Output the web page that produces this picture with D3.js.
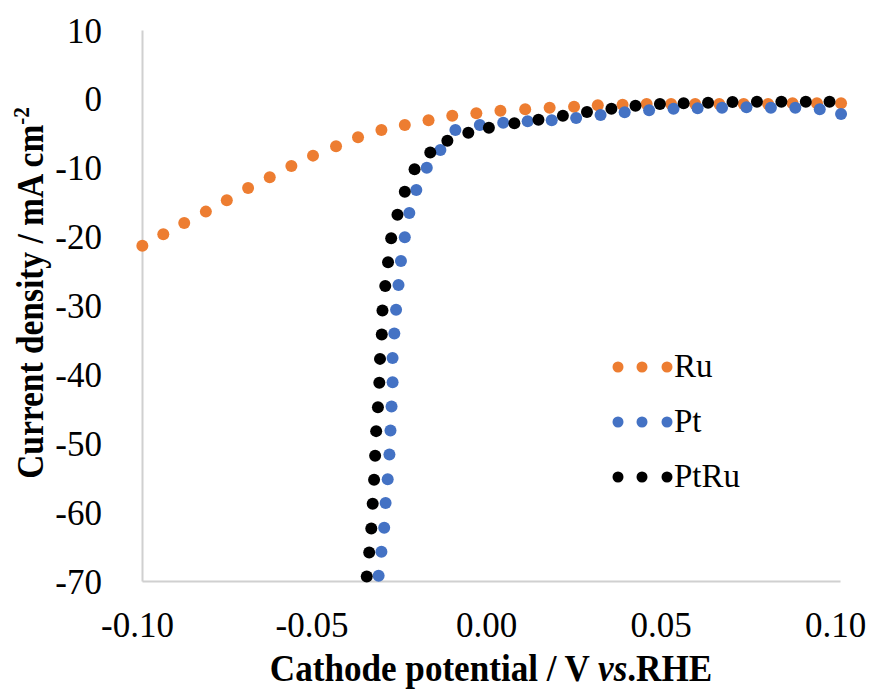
<!DOCTYPE html>
<html>
<head>
<meta charset="utf-8">
<script src="https://cdn.jsdelivr.net/npm/d3@7"></script>
<style>
  body { margin: 0; background: #fff; }
</style>
</head>
<body>
<script>
// series values (V vs RHE, mA cm-2)
var ruX = [-0.0999, -0.0939, -0.0879, -0.0817, -0.0757, -0.0696, -0.0634, -0.0572, -0.0510, -0.0444,
           -0.0381, -0.0314, -0.0247, -0.0179, -0.0111, -0.0042, 0.0027, 0.0098, 0.0168, 0.0238,
           0.0306, 0.0377, 0.0446, 0.0516, 0.0585, 0.0654, 0.0724, 0.0794, 0.0864, 0.0934, 0.1003];
var ruY = [-21.31, -19.65, -18.01, -16.37, -14.72, -12.93, -11.38, -9.74, -8.24, -6.88,
           -5.57, -4.51, -3.79, -3.11, -2.44, -2.09, -1.71, -1.51, -1.28, -1.13,
           -0.93, -0.84, -0.74, -0.74, -0.74, -0.74, -0.74, -0.74, -0.64, -0.64, -0.64];

var ptX = [-0.0322, -0.0314, -0.0306, -0.0302, -0.0296, -0.0291, -0.0288, -0.0285, -0.0282, -0.0282,
           -0.0277, -0.0272, -0.0265, -0.0258, -0.0247, -0.0234, -0.0214, -0.0184, -0.0145, -0.0102,
           -0.0032, 0.0035, 0.0105, 0.0174, 0.0244, 0.0314, 0.0383, 0.0453, 0.0523, 0.0592,
           0.0662, 0.0732, 0.0802, 0.0872, 0.0942, 0.1003];
var ptY = [-69.25, -65.76, -62.28, -58.69, -55.21, -51.64, -48.16, -44.67, -41.13, -37.61,
           -34.08, -30.60, -27.01, -23.53, -20.09, -16.56, -13.22, -9.99, -7.42, -4.51,
           -3.79, -3.45, -3.25, -3.11, -2.77, -2.34, -1.94, -1.65, -1.42, -1.36,
           -1.28, -1.22, -1.28, -1.28, -1.51, -2.19];

var ptruX = [-0.0356, -0.0349, -0.0343, -0.0339, -0.0335, -0.0332, -0.0329, -0.0324, -0.0320, -0.0318,
             -0.0313, -0.0311, -0.0303, -0.0295, -0.0286, -0.0268, -0.0247, -0.0219, -0.0174, -0.0125,
             -0.0065, -0.0006, 0.0067, 0.0136, 0.0206, 0.0275, 0.0345, 0.0414, 0.0484, 0.0552,
             0.0622, 0.0692, 0.0762, 0.0832, 0.0902, 0.0970];
var ptruY = [-69.35, -65.86, -62.38, -58.80, -55.31, -51.83, -48.24, -44.76, -41.23, -37.75,
             -34.22, -30.74, -27.16, -23.72, -20.23, -16.81, -13.47, -10.22, -7.78, -6.07,
             -4.91, -4.18, -3.54, -3.02, -2.44, -1.90, -1.42, -0.99, -0.74, -0.64,
             -0.55, -0.45, -0.41, -0.41, -0.41, -0.41];

var seriesNames = ["Ru", "Pt", "PtRu"];
var seriesColors = ["#ED7D31", "#4472C4", "#000000"];
var xTicks = [-0.10, -0.05, 0.00, 0.05, 0.10];
var yTicks = [10, 0, -10, -20, -30, -40, -50, -60, -70];

var series = [
    { name: seriesNames[0], color: seriesColors[0], x: ruX, y: ruY },
    { name: seriesNames[1], color: seriesColors[1], x: ptX, y: ptY },
    { name: seriesNames[2], color: seriesColors[2], x: ptruX, y: ptruY }
];

var serif = "Liberation Serif";

var svg = d3.select("body").append("svg")
    .attr("width", 870)
    .attr("height", 689)
    .attr("font-family", serif);

var x = d3.scaleLinear().domain([-0.10, 0.10]).range([142, 840]);
var y = d3.scaleLinear().domain([-70, 10]).range([581, 30]);

// axes: light gray lines, no tick marks
var xAxis = svg.append("g")
    .attr("transform", "translate(0," + y(-70) + ")")
    .call(d3.axisBottom(x).tickValues(xTicks).tickSize(0));
xAxis.attr("font-family", serif).attr("font-size", 35);
xAxis.select(".domain").attr("stroke", "#d0d0d0").attr("stroke-width", 2);
xAxis.selectAll("text")
    .attr("font-family", serif)
    .attr("dy", null)
    .attr("y", 56)
    .attr("dx", -5)
    .text(function(d) { return d3.format(".2f")(d).replace("\u2212", "-"); });

var yAxis = svg.append("g")
    .attr("transform", "translate(" + x(-0.10) + ",0)")
    .call(d3.axisLeft(y).tickValues(yTicks).tickSize(0));
yAxis.attr("font-family", serif).attr("font-size", 35);
yAxis.select(".domain").attr("stroke", "#d0d0d0").attr("stroke-width", 2);
yAxis.selectAll("text")
    .attr("font-family", serif)
    .attr("x", -40)
    .attr("dy", 12)
    .text(function(d) { return String(d); });

// points
series.forEach(function(s) {
    svg.append("g").selectAll("circle")
        .data(s.x.map(function(v, i) { return [v, s.y[i]]; }))
        .enter().append("circle")
        .attr("cx", function(d) { return x(d[0]); })
        .attr("cy", function(d) { return y(d[1]); })
        .attr("r", 6)
        .attr("fill", s.color);
});

// legend
var legend = svg.append("g");
series.forEach(function(s, i) {
    var ly = 367 + i * 55;
    [618, 642, 667].forEach(function(lx) {
        legend.append("circle")
            .attr("cx", lx)
            .attr("cy", ly)
            .attr("r", 5.5)
            .attr("fill", s.color);
    });
    legend.append("text")
        .attr("x", 674)
        .attr("y", ly + 10)
        .attr("font-family", serif)
        .attr("font-size", 33)
        .text(s.name);
});

// axis titles
var xt = svg.append("text")
    .attr("transform", "translate(491,681) scale(0.9,1)")
    .attr("text-anchor", "middle")
    .attr("font-family", serif)
    .attr("font-size", 39)
    .attr("font-weight", "bold");
xt.append("tspan").text("Cathode potential / V ");
xt.append("tspan").attr("font-style", "italic").text("vs");
xt.append("tspan").text(".RHE");

var yt = svg.append("text")
    .attr("transform", "translate(43,293) rotate(-90) scale(0.88,1)")
    .attr("text-anchor", "middle")
    .attr("font-family", serif)
    .attr("font-size", 38)
    .attr("font-weight", "bold");
yt.append("tspan").text("Current density / mA cm");
yt.append("tspan").attr("font-size", 24).attr("dy", -14).text("-2");
</script>
</body>
</html>
